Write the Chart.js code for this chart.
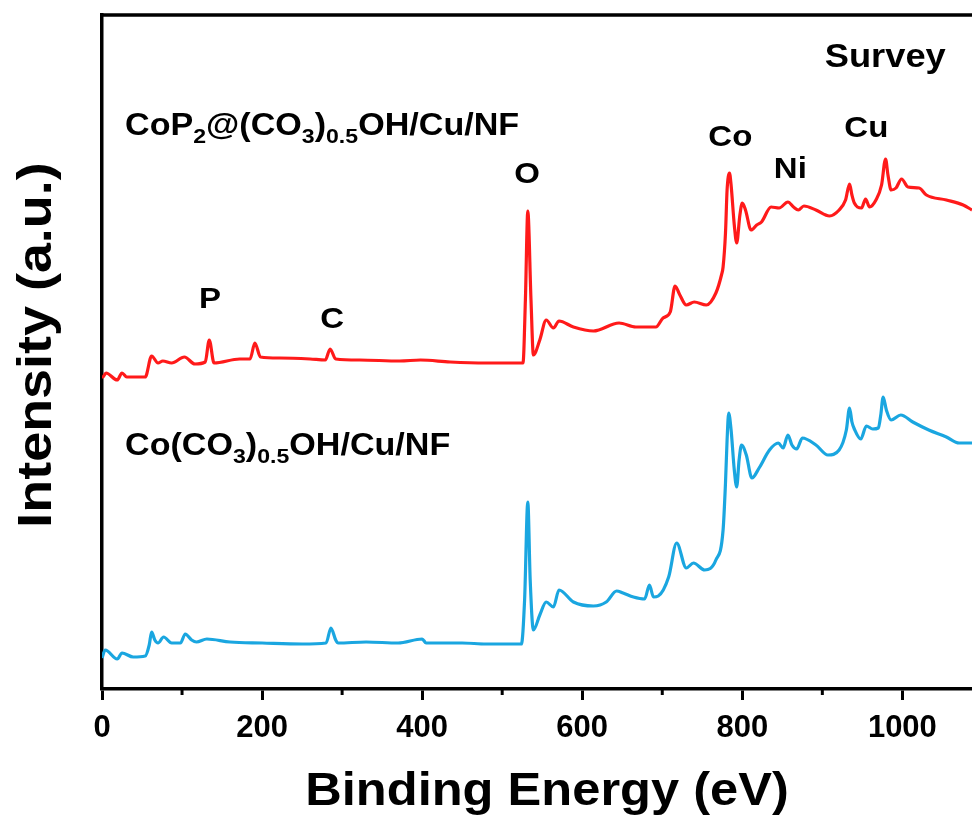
<!DOCTYPE html>
<html>
<head>
<meta charset="utf-8">
<script src="https://cdn.jsdelivr.net/npm/chart.js@4/dist/chart.umd.min.js"></script>
<style>
html,body{margin:0;padding:0;background:#fff;overflow:hidden;}
#wrap{width:972px;height:817px;position:relative;}
</style>
</head>
<body>
<div id="wrap"><canvas id="c" width="972" height="817"></canvas></div>
<script>
// Binding energy (eV) and intensity (a.u.)
const redEnergy = [0,1,5,19,25,31,54,62,70,76,87,103,116,129,134,140,172,185,191,198,222,260,279,285,292,322,372,398,435,480,526,529,532,536,539,547,555,564,571,589,614,646,667,692,701,710,716,722,730,740,755,767,774,776,779,781,784,786,790,793,797,800,804,811,818,824,836,846,857,864,870,877,892,909,921,929,934,937,940,949,954,959,967,974,979,982,986,992,999,1007,1021,1030,1055,1076,1087];
const redIntensity = [312,312,316,309,316,312,312,333,326,328,326,332,325,327,349,326,330,330,346,332,331,330,329,340,330,329,328,329,327,326,326,389,478,389,334,349,369,361,368,362,358,366,362,362,371,377,403,394,384,387,384,396,414,422,456,499,516,504,464,446,474,486,479,459,464,467,482,481,487,482,479,483,479,473,479,489,505,494,486,481,490,482,489,504,530,514,499,501,510,502,501,494,489,484,479];

const blueEnergy = [0,4,19,25,39,54,59,62,66,70,77,87,98,104,112,118,131,160,200,250,280,286,292,295,330,370,400,405,450,480,524,528,532,535,539,547,555,564,571,589,614,630,643,651,664,678,684,689,695,708,718,730,739,753,767,776,779,781,783,786,790,793,796,799,805,812,821,834,845,851,857,862,868,875,892,907,921,930,934,937,940,948,955,963,970,973,976,980,986,998,1013,1033,1055,1071,1087];
const blueIntensity = [31,39,30,36,32,33,44,57,49,46,52,46,46,55,49,47,50,47,46,45,46,61,49,46,47,46,50,46,46,45,45,89,187,109,59,74,87,82,99,87,83,87,98,96,92,90,104,92,93,112,146,121,126,119,129,159,206,249,276,259,219,202,229,244,234,211,221,239,246,241,254,244,240,251,244,234,239,259,281,267,260,250,263,260,261,274,292,279,269,274,267,259,252,246,246];

const xMin = 0, xMax = 1087, yMin = 0, yMax = 674;
const majorTicks = [0,200,400,600,800,1000];
const minorTicks = [100,300,500,700,900];

const FONT = '"Liberation Sans", Arial, Helvetica, sans-serif';
const STRETCH = 1.1;

function pts(xs, ys){ return xs.map((x,i)=>({x:x, y:ys[i]})); }

// rich text: parts [text, isSub]
function drawRich(ctx, parts, x, y, size, align){
  ctx.save();
  ctx.fillStyle = '#000';
  ctx.textBaseline = 'alphabetic';
  ctx.textAlign = 'left';
  const subSize = Math.round(size*0.68);
  let total = 0;
  const widths = parts.map(p=>{
    ctx.font = 'bold ' + (p[1]?subSize:size) + 'px ' + FONT;
    const w = ctx.measureText(p[0]).width; total += w; return w;
  });
  ctx.translate(x, y);
  ctx.scale(STRETCH, 1);
  let cx = align === 'center' ? -total/2 : 0;
  parts.forEach((p,i)=>{
    ctx.font = 'bold ' + (p[1]?subSize:size) + 'px ' + FONT;
    ctx.fillText(p[0], cx, p[1] ? size*0.27 : 0);
    cx += widths[i];
  });
  ctx.restore();
}

const annotations = [
  {parts:[['CoP',0],['2',1],['@(CO',0],['3',1],[')',0],['0.5',1],['OH/Cu/NF',0]], x:28.75, y:554, size:31, align:'left'},
  {parts:[['Co(CO',0],['3',1],[')',0],['0.5',1],['OH/Cu/NF',0]], x:28.75, y:234, size:31, align:'left'},
  {parts:[['Survey',0]], x:903, y:622, size:33, align:'left'},
  {parts:[['P',0]], x:135, y:381, size:30, align:'center'},
  {parts:[['C',0]], x:287.5, y:361, size:30, align:'center'},
  {parts:[['O',0]], x:531, y:506, size:30, align:'center'},
  {parts:[['Co',0]], x:785, y:543, size:30, align:'center'},
  {parts:[['Ni',0]], x:860, y:511, size:30, align:'center'},
  {parts:[['Cu',0]], x:955, y:552, size:30, align:'center'}
];

const decor = {
  id:'decor',
  afterDraw(chart){
    const ctx = chart.ctx, ca = chart.chartArea;
    const xs = chart.scales.x, ys = chart.scales.y;
    // top frame line
    ctx.save();
    ctx.strokeStyle = '#000'; ctx.lineWidth = 3.5;
    ctx.beginPath(); ctx.moveTo(ca.left-1.75, ca.top); ctx.lineTo(ca.right, ca.top); ctx.stroke();
    // minor ticks
    ctx.lineWidth = 3;
    minorTicks.forEach(v=>{
      const px = xs.getPixelForValue(v);
      ctx.beginPath(); ctx.moveTo(px, ca.bottom); ctx.lineTo(px, ca.bottom+6); ctx.stroke();
    });
    ctx.restore();
    // annotations
    annotations.forEach(a=>{
      drawRich(ctx, a.parts, xs.getPixelForValue(a.x), ys.getPixelForValue(a.y), a.size, a.align);
    });
    // axis titles
    drawRich(ctx, [['Binding Energy (eV)',0]], (ca.left+ca.right)/2 + 10, 805, 46, 'center');
    ctx.save();
    ctx.translate(51, 345);
    ctx.rotate(-Math.PI/2);
    drawRich(ctx, [['Intensity (a.u.)',0]], 0, 0, 49, 'center');
    ctx.restore();
  }
};

new Chart(document.getElementById('c'), {
  type:'line',
  data:{
    datasets:[
      {label:'CoP2@(CO3)0.5OH/Cu/NF', data:pts(redEnergy, redIntensity), borderColor:'#ff1a1a', borderWidth:3.2, pointRadius:0, cubicInterpolationMode:'monotone', fill:false},
      {label:'Co(CO3)0.5OH/Cu/NF', data:pts(blueEnergy, blueIntensity), borderColor:'#1aa6e0', borderWidth:3.2, pointRadius:0, cubicInterpolationMode:'monotone', fill:false}
    ]
  },
  options:{
    responsive:false,
    animation:false,
    events:[],
    layout:{padding:{top:15,left:0,right:0,bottom:0}},
    plugins:{legend:{display:false}, tooltip:{enabled:false}},
    scales:{
      x:{
        type:'linear', min:xMin, max:xMax,
        afterFit(s){ s.height = 128; },
        afterBuildTicks(s){ s.ticks = majorTicks.map(v=>({value:v})); },
        ticks:{color:'#000', font:{family:FONT, size:31, weight:'bold'}, padding:10, maxRotation:0, autoSkip:false, callback:(v)=>String(v)},
        grid:{display:true, drawOnChartArea:false, drawTicks:true, tickLength:11, tickWidth:3, tickColor:'#000'},
        border:{display:true, color:'#000', width:3.5}
      },
      y:{
        type:'linear', min:yMin, max:yMax,
        afterFit(s){ s.width = 102; },
        ticks:{display:false},
        grid:{display:false},
        border:{display:true, color:'#000', width:3.5}
      }
    }
  },
  plugins:[decor]
});
</script>
</body>
</html>
